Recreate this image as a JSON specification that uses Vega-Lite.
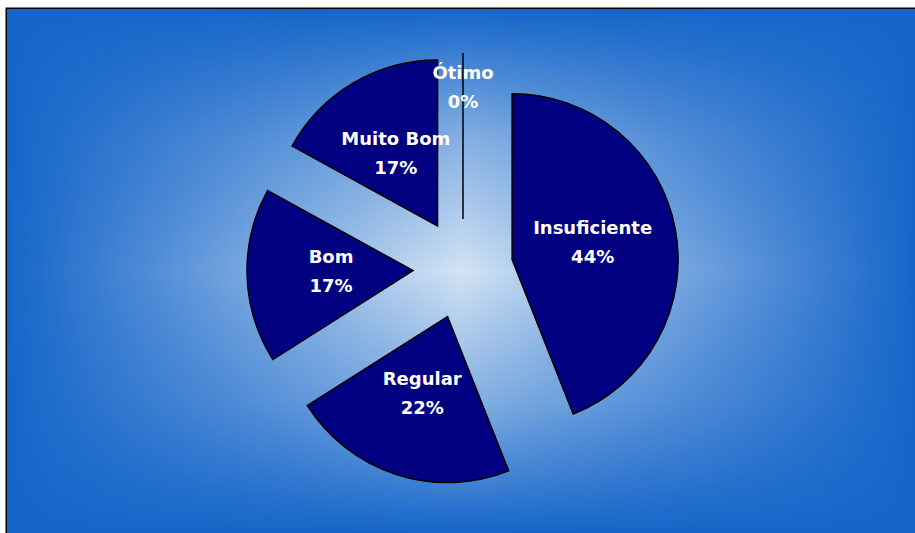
{
  "$schema": "https://vega.github.io/schema/vega-lite/v6.json",
  "width": 908,
  "height": 524,
  "autosize": {"type": "none"},
  "padding": {"left": 7, "top": 9, "right": 0, "bottom": 0},
  "background": "#ffffff",
  "config": {"view": {"stroke": "#000000", "strokeWidth": 3, "fill": "#1565c9"}},
  "data": {
    "values": [
      {"categoria": "Insuficiente", "pct": 44, "ordem": 1},
      {"categoria": "Regular", "pct": 22, "ordem": 2},
      {"categoria": "Bom", "pct": 17, "ordem": 3},
      {"categoria": "Muito Bom", "pct": 17, "ordem": 4},
      {"categoria": "Ótimo", "pct": 0, "ordem": 5}
    ]
  },
  "transform": [
    {"window": [{"op": "sum", "field": "pct", "as": "fim"}], "sort": [{"field": "ordem"}], "frame": [null, 0]},
    {"calculate": "datum.fim - datum.pct", "as": "inicio"},
    {"calculate": "(datum.inicio + datum.fim) / 100 * PI", "as": "meio"},
    {"calculate": "50 * sin(datum.meio)", "as": "ex"},
    {"calculate": "50 * cos(datum.meio)", "as": "ey"},
    {"calculate": "datum.pct == 0 ? 180 : 132", "as": "lr"},
    {"calculate": "datum.lr * sin(datum.meio)", "as": "lx"},
    {"calculate": "datum.lr * cos(datum.meio)", "as": "ly"},
    {"calculate": "datum.categoria + '\\n' + datum.pct + '%'", "as": "rotulo"}
  ],
  "layer": [
    {
      "data": {"values": [{}]},
      "mark": {
        "type": "rect",
        "color": {
          "gradient": "linear", "x1": 0, "y1": 0, "x2": 1, "y2": 0,
          "stops": [
            {"offset": 0, "color": "#1565c9"},
            {"offset": 0.5, "color": "#d2e3f4"},
            {"offset": 1, "color": "#1565c9"}
          ]
        }
      },
      "encoding": {
        "x": {"value": 0}, "x2": {"value": "width"},
        "y": {"value": 0}, "y2": {"value": "height"}
      }
    },
    {
      "data": {"values": [{}]},
      "mark": {
        "type": "rect",
        "color": {
          "gradient": "linear", "x1": 0, "y1": 0, "x2": 0, "y2": 1,
          "stops": [
            {"offset": 0, "color": "rgba(21,101,201,1)"},
            {"offset": 0.25, "color": "rgba(21,101,201,0.4)"},
            {"offset": 0.5, "color": "rgba(21,101,201,0)"},
            {"offset": 0.75, "color": "rgba(21,101,201,0.4)"},
            {"offset": 1, "color": "rgba(21,101,201,1)"}
          ]
        }
      },
      "encoding": {
        "x": {"value": 0}, "x2": {"value": "width"},
        "y": {"value": 0}, "y2": {"value": "height"}
      }
    },
    {
      "mark": {"type": "arc", "radius": 166, "fill": "#000080", "stroke": "#000000", "strokeWidth": 1.5},
      "encoding": {
        "x": {"field": "ex", "type": "quantitative", "scale": {"domain": [-456, 452], "nice": false, "zero": false}, "axis": null},
        "y": {"field": "ey", "type": "quantitative", "scale": {"domain": [-264, 260], "nice": false, "zero": false}, "axis": null},
        "theta": {"field": "inicio", "type": "quantitative", "scale": {"domain": [0, 100], "range": [0, 6.283185307]}},
        "theta2": {"field": "fim"}
      }
    },
    {
      "mark": {"type": "text", "color": "#ffffff", "font": "DejaVu Sans", "fontWeight": "bold", "fontSize": 18, "lineBreak": "\n", "lineHeight": 29, "align": "center", "baseline": "middle", "dy": -15},
      "encoding": {
        "x": {"field": "lx", "type": "quantitative", "scale": {"domain": [-456, 452], "nice": false, "zero": false}, "axis": null},
        "y": {"field": "ly", "type": "quantitative", "scale": {"domain": [-264, 260], "nice": false, "zero": false}, "axis": null},
        "text": {"field": "rotulo"}
      }
    }
  ]
}
